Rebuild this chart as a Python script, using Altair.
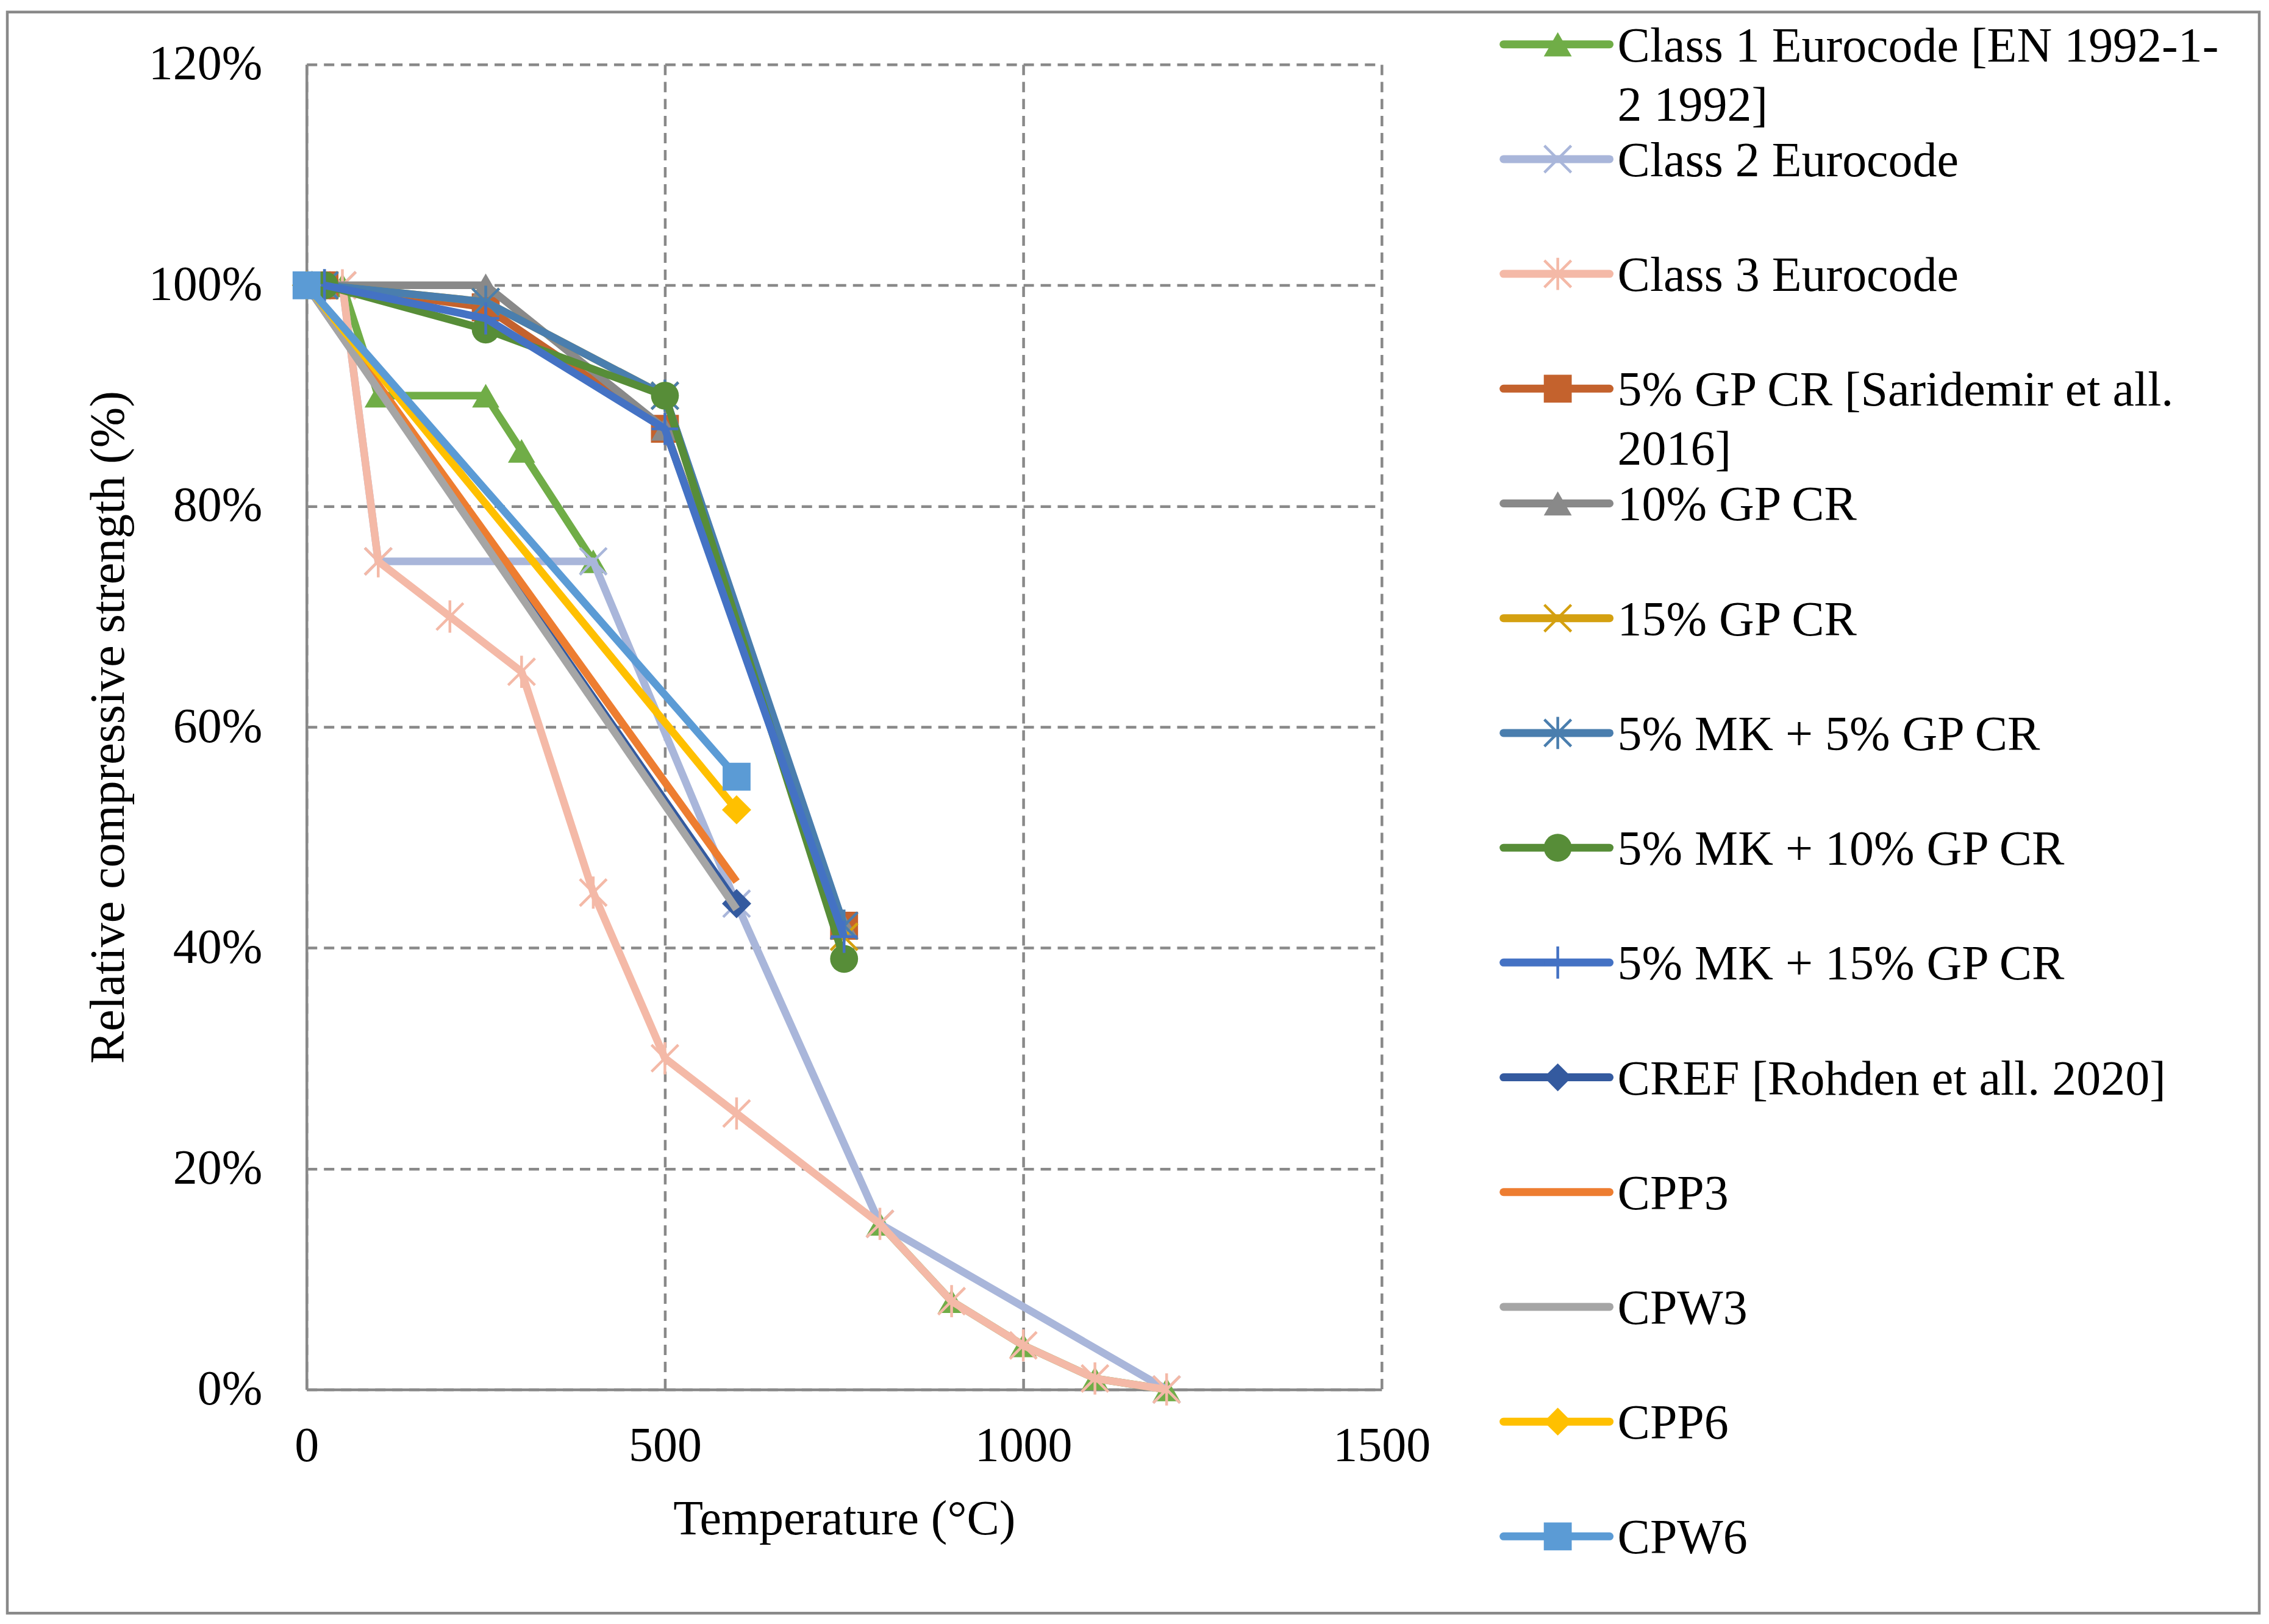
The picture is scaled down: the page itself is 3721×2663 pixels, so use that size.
import altair as alt
import pandas as pd

# series, in Excel drawing order
names = [
    "Class 1 Eurocode", "Class 2 Eurocode", "Class 3 Eurocode",
    "5% GP CR", "10% GP CR", "15% GP CR",
    "5% MK + 5% GP CR", "5% MK + 10% GP CR", "5% MK + 15% GP CR",
    "CREF", "CPP3", "CPW3", "CPP6", "CPW6",
]
labels = [
    "Class 1 Eurocode [EN 1992-1-\n2 1992]", "Class 2 Eurocode", "Class 3 Eurocode",
    "5% GP CR [Saridemir et all.\n2016]", "10% GP CR", "15% GP CR",
    "5% MK + 5% GP CR", "5% MK + 10% GP CR", "5% MK + 15% GP CR",
    "CREF [Rohden et all. 2020]", "CPP3", "CPW3", "CPP6", "CPW6",
]
colors = [
    "#70AD47", "#A9B6DA", "#F4B9A7",
    "#C4622D", "#898989", "#D4A010",
    "#4A7EAE", "#578D38", "#4472C4",
    "#345A9F", "#ED7D31", "#A5A5A5", "#FFC000", "#5B9BD5",
]
markers = [
    "triangle", "x", "star",
    "square", "triangle", "x",
    "star", "circle", "plus",
    "diamond", None, None, "diamond", "square",
]

# temperatures (°C) and relative strength (%); None = gap in the line
class1_t = [50, 100, 250, 300, 400, 600, 800, 900, 1000, 1100, 1200]
class1_v = [100, 90, 90, 85, 75, None, 15, 8, 4, 1, 0]
class2_t = [50, 100, 400, 600, 800, 1200]
class2_v = [100, 75, 75, 44, 15, 0]
class3_t = [50, 100, 200, 300, 400, 500, 600, 800, 900, 1000, 1100, 1200]
class3_v = [100, 75, 70, 65, 45, 30, 25, 15, 8, 4, 1, 0]

sari_t = [25, 250, 500, 750]
gp5_v = [100, 98, 87, 42]
gp10_v = [100, 100, 87, 42]
gp15_v = [100, 98.5, 90, 41]
mk5gp5_v = [100, 98.5, 90, 42]
mk5gp10_v = [100, 96, 90, 39]
mk5gp15_v = [100, 97, 87, 41]

rohden_t = [0, 600]
cref_v = [100, 44]
cpp3_v = [100, 46]
cpw3_v = [100, 43.5]
cpp6_v = [100, 52.5]
cpw6_v = [100, 55.5]

temps = [class1_t, class2_t, class3_t] + [sari_t] * 6 + [rohden_t] * 5
values = [class1_v, class2_v, class3_v, gp5_v, gp10_v, gp15_v,
          mk5gp5_v, mk5gp10_v, mk5gp15_v, cref_v, cpp3_v, cpw3_v, cpp6_v, cpw6_v]

x_ticks = [0, 500, 1000, 1500]
y_ticks = [0, 0.2, 0.4, 0.6, 0.8, 1.0, 1.2]

rows = []
for name, ts, vs in zip(names, temps, values):
    seg = 0
    for t, v in zip(ts, vs):
        if v is None:
            seg += 1
            continue
        rows.append({"series": name, "temp": t, "strength": v / 100, "seg": seg})
df = pd.DataFrame(rows)

SHAPES = {
    "triangle": ("triangle-up", True, 2000),
    "square": ("square", True, 2100),
    "circle": ("circle", True, 2100),
    "diamond": ("diamond", True, 2300),
    "x": ("M-1,-1L1,1M-1,1L1,-1", False, 1936),
    "star": ("M-1,-1L1,1M-1,1L1,-1M0,-1.2L0,1.2", False, 1936),
    "plus": ("M-1,0L1,0M0,-1.2L0,1.2", False, 1936),
}

x_enc = alt.X("temp:Q", title="Temperature (°C)",
              scale=alt.Scale(domain=[0, 1500], nice=False, zero=False),
              axis=alt.Axis(values=x_ticks, format="d", labelPadding=54, titlePadding=41,
                            labelFlush=False))
y_enc = alt.Y("strength:Q", title="Relative compressive strength (%)",
              scale=alt.Scale(domain=[0, 1.2], nice=False),
              axis=alt.Axis(values=y_ticks, format=".0%", labelPadding=73, titlePadding=83,
                            labelFlush=False))

main_layers = []
for name, color, marker in zip(names, colors, markers):
    sub = alt.Chart(df).transform_filter(alt.datum.series == name)
    main_layers.append(
        sub.mark_line(color=color, strokeWidth=12.5, strokeJoin="round")
        .encode(x=x_enc, y=y_enc, detail="seg:N")
    )
    if marker:
        shape, filled, size = SHAPES[marker]
        main_layers.append(
            sub.mark_point(shape=shape, filled=filled, color=color, size=size,
                           strokeWidth=4.5, opacity=1)
            .encode(x=x_enc, y=y_enc)
        )
main = alt.layer(*main_layers)

# legend built from the same series lists
legend_df = pd.DataFrame({
    "series": names,
    "label": labels,
    "shape": [SHAPES[m][0] if m else "" for m in markers],
    "kind": ["none" if m is None else ("fill" if SHAPES[m][1] else "stroke") for m in markers],
})
leg_y = alt.Y("series:N", scale=alt.Scale(type="point", domain=names, range=[-33, 2415], padding=0),
              axis=None)
leg_color = alt.Color("series:N", scale=alt.Scale(domain=names, range=colors), legend=None)
leg = alt.Chart(legend_df)
leg_line = leg.mark_rule(strokeWidth=13, strokeCap="round").encode(
    x=alt.value(1964), x2=alt.value(2138), y=leg_y, color=leg_color)
leg_fill = leg.transform_filter(alt.datum.kind == "fill").mark_point(
    filled=True, size=2100, opacity=1).encode(
    x=alt.value(2053), y=leg_y, color=leg_color, shape=alt.Shape("shape:N", scale=None))
leg_stroke = leg.transform_filter(alt.datum.kind == "stroke").mark_point(
    filled=False, size=1936, strokeWidth=4.5, opacity=1).encode(
    x=alt.value(2053), y=leg_y, color=leg_color, shape=alt.Shape("shape:N", scale=None))
leg_text = leg.mark_text(align="left", baseline="alphabetic", dy=28, lineBreak="\n",
                         lineHeight=97, fontSize=80, font="Liberation Serif", color="black").encode(
    x=alt.value(2151), y=leg_y, text="label:N")
legend = alt.layer(leg_line, leg_fill, leg_stroke, leg_text)

frame = alt.Chart(pd.DataFrame({"k": [0]})).mark_rect(
    fillOpacity=0, stroke="#898989", strokeWidth=4.5).encode(
    x=alt.value(-491), x2=alt.value(3204), y=alt.value(-86), y2=alt.value(2541))

chart = alt.layer(frame, main, legend).resolve_scale(
    y="independent", color="independent", shape="independent"
).properties(
    width=1764, height=2174,
    autosize=alt.AutoSizeParams(type="none"),
    padding={"left": 495, "top": 97, "right": 1448, "bottom": 376},
).configure_view(
    strokeWidth=0
).configure_axis(
    labelFont="Liberation Serif", labelFontSize=80, labelColor="black", labelLimit=600,
    titleFont="Liberation Serif", titleFontSize=80, titleFontWeight="normal", titleColor="black",
    titleLimit=3000,
    ticks=False, tickSize=0,
    domainColor="#898989", domainWidth=4.5,
    gridColor="#898989", gridWidth=4.5, gridDash=[17, 11], gridOpacity=1,
)

chart.save("out.html", embed_options={"renderer": "svg", "actions": False})
